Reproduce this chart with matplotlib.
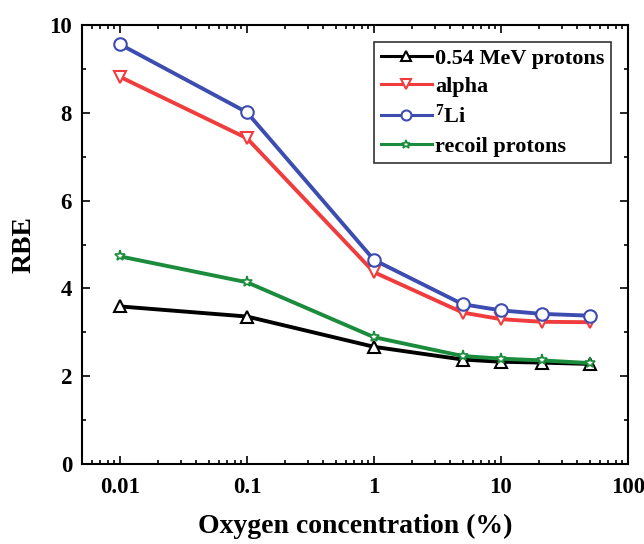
import numpy as np
import matplotlib
matplotlib.use("Agg")
import matplotlib.pyplot as plt
from matplotlib.ticker import LogLocator, FixedLocator, MultipleLocator, NullFormatter

# 字体：粗体衬线
plt.rcParams['font.family'] = ['Liberation Serif', 'DejaVu Serif']
plt.rcParams['font.weight'] = 'bold'
plt.rcParams['mathtext.fontset'] = 'custom'
plt.rcParams['mathtext.rm'] = 'Liberation Serif:bold'
plt.rcParams['mathtext.it'] = 'Liberation Serif:bold'
plt.rcParams['mathtext.bf'] = 'Liberation Serif:bold'

# 数据
oxygen = [0.01, 0.1, 1, 5, 10, 21, 50]
rbe_protons = [3.59, 3.36, 2.67, 2.38, 2.33, 2.31, 2.28]
rbe_alpha = [8.82, 7.42, 4.37, 3.45, 3.30, 3.24, 3.23]
rbe_li = [9.56, 8.01, 4.65, 3.64, 3.50, 3.42, 3.38]
rbe_recoil = [4.73, 4.14, 2.89, 2.46, 2.40, 2.36, 2.30]

labels = ['0.54 MeV protons', 'alpha', r'$^{7}$Li', 'recoil protons']
xticks = [0.01, 0.1, 1, 10, 100]
xticklabels = ['0.01', '0.1', '1', '10', '100']
yticks = [0, 2, 4, 6, 8, 10]

fig = plt.figure(figsize=(6.44, 5.44), dpi=100)
ax = fig.add_axes([0.127, 0.147, 0.848, 0.807])

lw = 2.8
ax.plot(oxygen, rbe_protons, color='black', lw=lw, marker='^', ms=9,
        mfc='white', mec='black', mew=1.5, label=labels[0])
ax.plot(oxygen, rbe_alpha, color='#f03c3c', lw=lw, marker='v', ms=9,
        mfc='white', mec='#f03c3c', mew=1.5, label=labels[1])
ax.plot(oxygen, rbe_li, color='#3c4cb0', lw=lw, marker='o', ms=9,
        mfc='white', mec='#3c4cb0', mew=1.5, label=labels[2])
ax.plot(oxygen, rbe_recoil, color='#1a8c3c', lw=lw, marker='*', ms=8,
        mfc='white', mec='#1a8c3c', mew=1.2, label=labels[3])

ax.set_xscale('log')
ax.set_xlim(0.005, 100)
ax.set_ylim(0, 10)
ax.xaxis.set_major_locator(FixedLocator(xticks))
ax.set_xticklabels(xticklabels)
ax.xaxis.set_minor_locator(LogLocator(base=10, subs=np.arange(2, 10), numticks=20))
ax.xaxis.set_minor_formatter(NullFormatter())
ax.set_yticks(yticks)
ax.yaxis.set_minor_locator(MultipleLocator(1))

ax.tick_params(which='both', direction='in', top=True, right=True,
               labelsize=16.5, width=1.2)
ax.tick_params(axis='x', pad=9)
ax.tick_params(axis='y', pad=7)
ax.tick_params(which='major', length=6)
ax.tick_params(which='minor', length=3)
for s in ax.spines.values():
    s.set_linewidth(1.5)

ax.set_xlabel('Oxygen concentration (%)', fontsize=20, fontweight='bold', labelpad=12)
ax.set_ylabel('RBE', fontsize=20, fontweight='bold', labelpad=9)

# 图例：线条和标记略小
leg = ax.legend(loc='upper right', fontsize=16, frameon=True, fancybox=False,
                edgecolor='black', handlelength=2.3, borderpad=0.3,
                labelspacing=0.35, handletextpad=0.15, borderaxespad=0.75,
                markerscale=0.8)
leg.get_frame().set_linewidth(1.2)
for h in leg.get_lines():
    h.set_linewidth(2.2)

plt.savefig('out.png', dpi=100)
